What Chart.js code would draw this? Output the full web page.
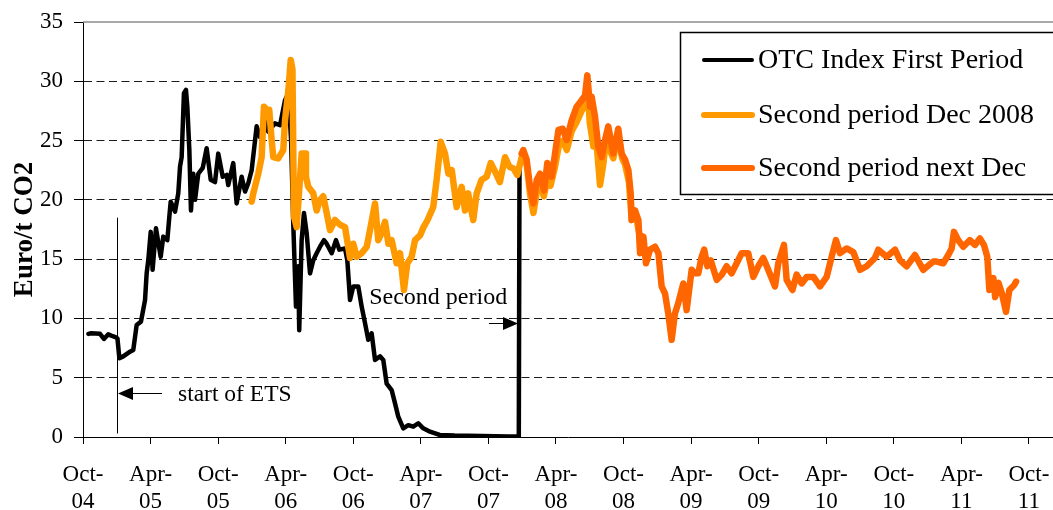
<!DOCTYPE html>
<html>
<head>
<meta charset="utf-8">
<script src="https://cdn.jsdelivr.net/npm/chart.js"></script>
<style>
  html, body { margin: 0; padding: 0; background: #fff; }
  #wrap { width: 1053px; height: 510px; position: relative; }
</style>
</head>
<body>
<div id="wrap"><canvas id="c" width="1053" height="510"></canvas></div>
<script>
// ---- Data (x in decimal years, y in Euro/t CO2) ----
const seriesNames = ["OTC Index First Period", "Second period Dec 2008", "Second period next Dec"];

const firstPeriod = [
  [2004.79,8.7],[2004.81,8.75],[2004.876,8.7],[2004.905,8.27],[2004.937,8.66],[2004.97,8.5],[2004.994,8.4],
  [2005.005,8.3],[2005.019,6.64],[2005.048,6.8],[2005.098,7.2],[2005.122,7.34],[2005.147,9.45],[2005.179,9.73],
  [2005.209,11.55],[2005.221,13.8],[2005.233,14.9],[2005.251,17.3],[2005.265,14.1],[2005.29,17.6],[2005.325,15.2],
  [2005.344,16.9],[2005.374,16.6],[2005.389,18.6],[2005.399,19.85],[2005.431,19.0],[2005.455,20.55],[2005.468,22.8],
  [2005.48,23.6],[2005.497,29.0],[2005.512,29.27],[2005.522,27.86],[2005.537,24.2],[2005.549,19.1],[2005.566,22.2],
  [2005.579,20.0],[2005.603,22.2],[2005.636,22.7],[2005.665,24.35],[2005.695,21.7],[2005.727,21.5],[2005.751,23.9],
  [2005.784,21.95],[2005.813,22.1],[2005.825,21.25],[2005.862,23.1],[2005.887,19.7],[2005.924,21.95],[2005.949,20.7],
  [2005.973,21.4],[2005.998,22.5],[2006.035,26.2],[2006.06,25.3],[2006.097,26.6],[2006.121,25.75],[2006.17,26.45],
  [2006.208,26.3],[2006.245,28.4],[2006.27,29.0],[2006.29,25.0],[2006.306,18.0],[2006.326,11.0],[2006.343,14.4],
  [2006.35,9.0],[2006.368,16.6],[2006.385,18.9],[2006.405,17.2],[2006.43,13.8],[2006.454,14.9],[2006.479,15.5],
  [2006.504,16.05],[2006.533,16.6],[2006.553,16.3],[2006.59,15.5],[2006.622,16.6],[2006.647,15.8],[2006.689,15.9],
  [2006.706,14.9],[2006.726,11.55],[2006.75,12.7],[2006.787,12.7],[2006.812,11.0],[2006.837,9.6],[2006.861,8.2],
  [2006.886,8.75],[2006.911,6.5],[2006.948,6.8],[2006.972,6.5],[2006.997,4.5],[2007.034,3.96],[2007.059,2.84],
  [2007.083,1.71],[2007.12,0.73],[2007.157,1.0],[2007.194,0.87],[2007.231,1.16],[2007.268,0.73],[2007.318,0.45],
  [2007.39,0.17],[2007.5,0.12],[2007.7,0.08],[2007.9,0.05],[2007.975,0.05],[2007.98,22.5]
];

const secondDec2008 = [
  [2005.998,19.85],[2006.01,20.55],[2006.047,22.2],[2006.072,23.6],[2006.089,27.86],[2006.109,27.6],[2006.128,27.6],
  [2006.146,25.05],[2006.158,23.6],[2006.195,23.5],[2006.232,24.2],[2006.245,26.7],[2006.27,29.27],[2006.287,31.8],
  [2006.300,31.0],[2006.311,18.6],[2006.331,17.7],[2006.36,22.5],[2006.368,23.9],[2006.393,23.9],[2006.40,21.95],
  [2006.417,21.1],[2006.454,20.55],[2006.479,19.1],[2006.504,20.0],[2006.528,20.3],[2006.553,18.9],[2006.578,17.45],
  [2006.615,18.3],[2006.652,17.9],[2006.689,17.7],[2006.726,15.1],[2006.75,16.3],[2006.775,15.2],[2006.812,15.5],
  [2006.85,16.05],[2006.878,17.7],[2006.911,19.7],[2006.935,16.6],[2006.96,17.2],[2006.985,18.15],[2007.01,16.3],
  [2007.034,16.6],[2007.071,14.65],[2007.096,15.5],[2007.125,12.4],[2007.15,14.65],[2007.182,15.2],[2007.207,16.6],
  [2007.244,17.0],[2007.27,17.7],[2007.30,18.3],[2007.342,19.4],[2007.367,21.7],[2007.397,24.9],[2007.429,23.9],
  [2007.454,22.2],[2007.479,22.5],[2007.515,19.4],[2007.552,21.1],[2007.577,19.1],[2007.60,20.55],[2007.638,18.3],
  [2007.663,20.55],[2007.70,21.7],[2007.737,21.95],[2007.767,23.1],[2007.799,22.4],[2007.835,21.5],[2007.873,23.6],
  [2007.905,22.8],[2007.935,22.65],[2007.964,22.1],[2007.996,23.6],[2008.033,23.0],[2008.058,20.5],[2008.083,18.9],
  [2008.11,20.8],[2008.132,21.5],[2008.16,20.3],[2008.186,21.7],[2008.21,21.2],[2008.243,22.8],[2008.27,24.5],
  [2008.30,25.0],[2008.33,24.2],[2008.366,25.8],[2008.40,26.5],[2008.44,27.5],[2008.465,28.0],[2008.482,30.0],
  [2008.50,26.5],[2008.527,24.5],[2008.55,24.8],[2008.576,21.25],[2008.60,23.0],[2008.62,25.05],[2008.637,24.5],
  [2008.674,23.5],[2008.711,25.5],[2008.74,23.5],[2008.761,23.0],[2008.79,21.5],[2008.81,18.3],[2008.835,19.1],
  [2008.86,17.5],[2008.9,15.5],[2008.93,15.0]
];

const secondNextDec = [
  [2007.996,23.9],[2008.008,24.2],[2008.033,23.4],[2008.058,21.1],[2008.083,19.7],[2008.108,21.7],[2008.132,22.2],
  [2008.162,20.8],[2008.186,23.1],[2008.218,21.95],[2008.243,23.9],[2008.268,25.9],[2008.30,26.0],[2008.329,25.05],
  [2008.366,26.7],[2008.403,27.86],[2008.44,28.4],[2008.465,28.8],[2008.482,30.5],[2008.502,27.86],[2008.514,28.7],
  [2008.539,27.0],[2008.563,24.5],[2008.588,23.6],[2008.613,25.05],[2008.637,26.2],[2008.674,23.9],[2008.711,26.0],
  [2008.736,23.9],[2008.761,23.4],[2008.786,22.5],[2008.803,20.55],[2008.81,18.3],[2008.835,19.1],[2008.86,18.3],
  [2008.872,15.5],[2008.897,16.9],[2008.916,14.65],[2008.946,15.8],[2008.983,16.05],[2009.008,15.5],[2009.032,12.7],
  [2009.057,12.1],[2009.081,10.4],[2009.106,8.2],[2009.13,10.4],[2009.155,11.3],[2009.192,12.95],[2009.217,10.7],
  [2009.254,14.1],[2009.278,13.8],[2009.303,13.8],[2009.328,15.2],[2009.347,15.8],[2009.37,14.4],[2009.395,14.9],
  [2009.44,13.25],[2009.477,13.7],[2009.513,14.4],[2009.55,13.8],[2009.587,14.65],[2009.624,15.5],[2009.673,15.5],
  [2009.71,13.5],[2009.747,14.4],[2009.784,15.1],[2009.81,14.4],[2009.871,12.7],[2009.895,14.65],[2009.937,16.2],
  [2009.957,13.25],[2010.0,12.4],[2010.031,13.7],[2010.068,12.95],[2010.105,13.5],[2010.155,13.5],[2010.204,12.7],
  [2010.253,13.5],[2010.29,15.2],[2010.322,16.6],[2010.352,15.5],[2010.401,15.9],[2010.45,15.6],[2010.5,14.1],
  [2010.549,14.4],[2010.61,15.1],[2010.635,15.8],[2010.697,15.2],[2010.759,15.8],[2010.796,14.9],[2010.845,14.4],
  [2010.907,15.35],[2010.968,14.1],[2011.042,14.8],[2011.067,14.8],[2011.116,14.65],[2011.153,15.35],[2011.178,15.9],
  [2011.195,17.3],[2011.227,16.6],[2011.264,16.05],[2011.313,16.6],[2011.35,16.2],[2011.387,16.75],[2011.417,16.2],
  [2011.442,15.2],[2011.457,12.4],[2011.487,13.4],[2011.5,11.8],[2011.525,13.0],[2011.55,12.1],[2011.58,10.55],
  [2011.605,12.4],[2011.64,12.8],[2011.655,13.1]
];

const tickPositions = [2004.75,2005.25,2005.75,2006.25,2006.75,2007.25,2007.75,2008.25,2008.75,2009.25,2009.75,2010.25,2010.75,2011.25,2011.75];
const tickLabels = [["Oct-","04"],["Apr-","05"],["Oct-","05"],["Apr-","06"],["Oct-","06"],["Apr-","07"],["Oct-","07"],
  ["Apr-","08"],["Oct-","08"],["Apr-","09"],["Oct-","09"],["Apr-","10"],["Oct-","10"],["Apr-","11"],["Oct-","11"]];
const yTicks = [0,5,10,15,20,25,30,35];

// annotations: [x, y] in data units
const etsLine = { x: 2005.005, y0: 0.3, y1: 18.5 };
const etsArrow = { from: 2005.335, to: 2005.009, y: 3.74, text: "start of ETS", textX: 2005.453, textY: 3.54 };
const secondArrow = { from: 2007.754, to: 2007.969, y: 9.59, text: "Second period", textX: 2006.868, textY: 11.72 };

const colors = ["#000000", "#FF9900", "#FF6600"];
const widths = [4.5, 6.5, 6.5];

const SERIF = "'Liberation Serif', 'Times New Roman', serif";

function toXY(arr) { return arr.map(p => ({ x: p[0], y: p[1] })); }

const decorPlugin = {
  id: 'decor',
  afterDatasetsDraw(chart) {
    const { ctx, chartArea, scales: { x, y } } = chart;
    ctx.save();
    // top border of plot area
    ctx.strokeStyle = '#8c8c8c';
    ctx.lineWidth = 1.5;
    ctx.beginPath();
    ctx.moveTo(chartArea.left, y.getPixelForValue(35));
    ctx.lineTo(chartArea.right, y.getPixelForValue(35));
    ctx.stroke();

    // ETS vertical line
    ctx.strokeStyle = '#000';
    ctx.lineWidth = 1;
    const ex = Math.round(x.getPixelForValue(etsLine.x)) + 0.5;
    ctx.beginPath();
    ctx.moveTo(ex, y.getPixelForValue(etsLine.y1));
    ctx.lineTo(ex, y.getPixelForValue(etsLine.y0));
    ctx.stroke();

    function arrow(a) {
      const x0 = x.getPixelForValue(a.from), x1 = x.getPixelForValue(a.to);
      const yy = Math.round(y.getPixelForValue(a.y)) + 0.5;
      const dir = Math.sign(x1 - x0);
      const headLen = 15, half = 6.5;
      ctx.strokeStyle = '#000';
      ctx.lineWidth = 1;
      ctx.beginPath();
      ctx.moveTo(x0, yy);
      ctx.lineTo(x1 - dir * headLen, yy);
      ctx.stroke();
      ctx.fillStyle = '#000';
      ctx.beginPath();
      ctx.moveTo(x1, yy);
      ctx.lineTo(x1 - dir * headLen, yy - half);
      ctx.lineTo(x1 - dir * headLen, yy + half);
      ctx.closePath();
      ctx.fill();
      ctx.font = a.font;
      ctx.textAlign = 'left';
      ctx.textBaseline = 'middle';
      ctx.fillText(a.text, x.getPixelForValue(a.textX), y.getPixelForValue(a.textY));
    }
    arrow(Object.assign({ font: "23.5px " + SERIF }, etsArrow));
    arrow(Object.assign({ font: "24px " + SERIF }, secondArrow));

    // legend box
    const bx = 680.5, by = 32.5, bw = 380, bh = 162;
    ctx.fillStyle = '#fff';
    ctx.fillRect(bx, by, bw, bh);
    ctx.strokeStyle = '#000';
    ctx.lineWidth = 1.5;
    ctx.strokeRect(bx, by, bw, bh);
    const rowsY = [60, 115, 168];
    ctx.font = "28px " + SERIF;
    ctx.textAlign = 'left';
    ctx.textBaseline = 'middle';
    chart.data.datasets.forEach((ds, i) => {
      ctx.strokeStyle = ds.borderColor;
      ctx.lineWidth = i === 0 ? 4 : 6;
      ctx.lineCap = 'round';
      ctx.beginPath();
      ctx.moveTo(704, rowsY[i]);
      ctx.lineTo(752, rowsY[i]);
      ctx.stroke();
      ctx.fillStyle = '#000';
      ctx.fillText(ds.label, 758, rowsY[i] + 1);
    });
    ctx.restore();
  }
};

new Chart(document.getElementById('c'), {
  type: 'line',
  data: {
    datasets: [
      { label: seriesNames[0], data: toXY(firstPeriod), borderColor: colors[0], borderWidth: widths[0], order: 2 },
      { label: seriesNames[1], data: toXY(secondDec2008), borderColor: colors[1], borderWidth: widths[1], order: 1 },
      { label: seriesNames[2], data: toXY(secondNextDec), borderColor: colors[2], borderWidth: widths[2], order: 0 }
    ].map(d => Object.assign(d, { pointRadius: 0, tension: 0, fill: false, borderJoinStyle: 'round', borderCapStyle: 'round' }))
  },
  options: {
    responsive: false,
    animation: false,
    devicePixelRatio: 1,
    layout: { padding: { top: 22, right: 0, bottom: 0, left: 0 } },
    plugins: { legend: { display: false }, tooltip: { enabled: false } },
    scales: {
      x: {
        type: 'linear',
        min: 2004.75,
        max: 2011.928,
        afterBuildTicks: s => { s.ticks = tickPositions.map(v => ({ value: v })); },
        afterFit: s => { s.height = 73; s.paddingRight = 0; s.paddingLeft = 0; },
        grid: { drawOnChartArea: false, drawTicks: true, tickLength: 7, color: '#000', tickColor: '#000', tickBorderDash: [] },
        border: { display: true, color: '#000', width: 1 },
        ticks: {
          autoSkip: false, maxRotation: 0, minRotation: 0, padding: 17, color: '#000',
          font: { family: SERIF, size: 23, lineHeight: 1.2 },
          callback: (v, i) => tickLabels[i]
        }
      },
      y: {
        min: 0,
        max: 35,
        afterBuildTicks: s => { s.ticks = yTicks.map(v => ({ value: v })); },
        afterFit: s => { s.width = 83; s.paddingTop = 0; s.paddingBottom = 0; },
        grid: {
          color: c => (c.tick && (c.tick.value === 0 || c.tick.value === 35)) ? 'rgba(0,0,0,0)' : '#1a1a1a',
          lineWidth: 1, drawTicks: true, tickLength: 9, tickColor: '#000', tickBorderDash: []
        },
        border: { display: true, color: '#000', width: 1, dash: [8, 4.5] },
        ticks: { padding: 11, color: '#000', font: { family: SERIF, size: 23 } },
        title: {
          display: true, text: 'Euro/t CO2', color: '#000',
          font: { family: SERIF, size: 27, weight: 'bold', lineHeight: 1.2 },
          padding: { top: 9, bottom: 0 }
        }
      }
    }
  },
  plugins: [decorPlugin]
});
</script>
</body>
</html>
